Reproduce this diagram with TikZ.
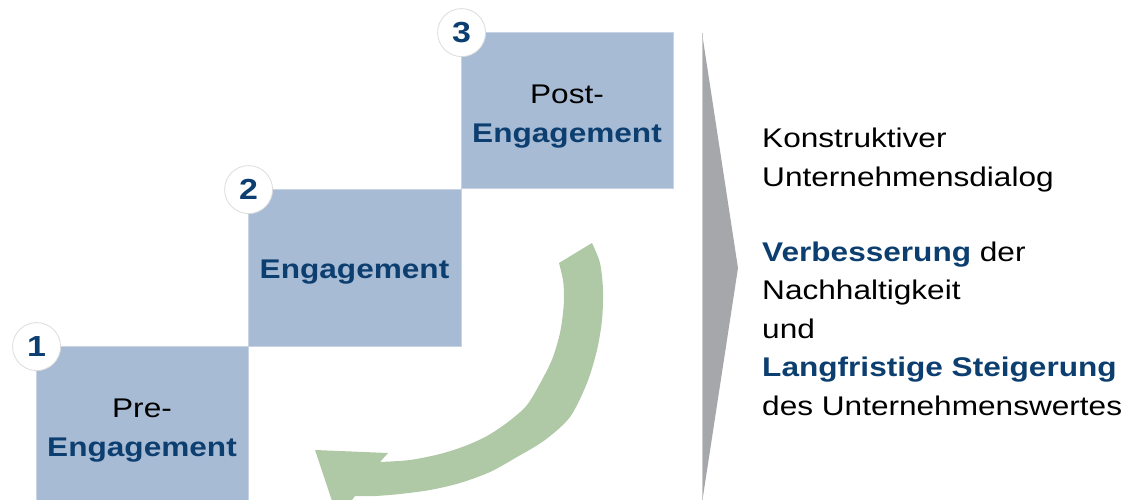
\documentclass[tikz,border=0pt]{standalone}
\usepackage{fontspec}
\setmainfont{Liberation Sans}[FakeStretch=1.17]
\definecolor{boxfill}{RGB}{167,187,213}
\definecolor{boxedge}{RGB}{200,212,228}
\definecolor{darkblue}{RGB}{12,62,112}
\definecolor{arrowgreen}{RGB}{175,200,165}
\definecolor{chevgray}{RGB}{165,167,170}
\definecolor{chevedge}{RGB}{200,201,203}
\definecolor{ringgray}{RGB}{220,220,220}
\newcommand{\topstrut}[1]{\rule{0pt}{#1}}
\begin{document}
\begin{tikzpicture}[x=1pt,y=-1pt,
  stage/.style={rectangle, fill=boxfill, draw=boxedge, line width=0.8pt,
    minimum width=212pt, minimum height=157pt, inner sep=0pt, align=center,
    font=\fontsize{27}{39}\selectfont},
  num/.style={circle, fill=white, draw=ringgray, line width=0.8pt,
    minimum size=48pt, inner sep=0pt, text=darkblue,
    font=\fontsize{29}{30}\selectfont\bfseries},
  rtext/.style={anchor=base west, inner sep=0pt, font=\fontsize{27}{38}\selectfont}
]
\useasboundingbox (0,0) rectangle (1125,500);
\clip (0,0) rectangle (1125,500);

% stage boxes
\node[stage] (b1) at (142,424.5) {\topstrut{30pt}Pre-\\\textbf{\color{darkblue}Engagement}};
\node[stage, minimum width=213pt] (b2) at (354.5,267.5) {\topstrut{28pt}\textbf{\color{darkblue}Engagement}};
\node[stage, minimum height=156pt] (b3) at (567,110) {\topstrut{31pt}Post-\\\textbf{\color{darkblue}Engagement}};

% number circles
\node[num] (n1) at ([shift={(1,1)}]b1.north west) {1};
\node[num] (n2) at ([shift={(1,1)}]b2.north west) {2};
\node[num] (n3) at ([shift={(1,1)}]b3.north west) {3};

% green curved arrow
\fill[arrowgreen]
  plot[smooth] coordinates {(592,243) (600,263) (603,290) (602,320) (597,350)
     (587,383) (570,417) (545,440) (517,457) (490,472) (460,483) (430,490)
     (400,494) (375,496) (355,496)}
  -- (338,519) -- (315,450) -- (388,453) -- (380,462)
  -- plot[smooth] coordinates {(380,462) (410,460) (440,454) (465,446) (487,436)
     (508,422) (527,405) (543,378) (553,357) (560,333) (563,313) (564,297)
     (563,280) (559,263)}
  -- cycle;

% grey chevron
\coordinate (c1) at (702,33);
\coordinate (c2) at (738,268);
\coordinate (c3) at (702,503);
\fill[chevgray] (c1) -- (c2) -- (c3) -- cycle;
\draw[chevedge, line width=1pt] (c1) -- (c3);

% right-hand text
\node[rtext] (t1) at (762,148) {Konstruktiver};
\node[rtext] (t2) at (762,186) {Unternehmensdialog};
\node[rtext] (t3) at (762,261) {\textbf{\color{darkblue}Verbesserung} der};
\node[rtext] (t4) at (762,299.5) {Nachhaltigkeit};
\node[rtext] (t5) at (762,338) {und};
\node[rtext] (t6) at (762,376.5) {\textbf{\color{darkblue}Langfristige Steigerung}};
\node[rtext] (t7) at (762,415) {des Unternehmenswertes};
\end{tikzpicture}
\end{document}
